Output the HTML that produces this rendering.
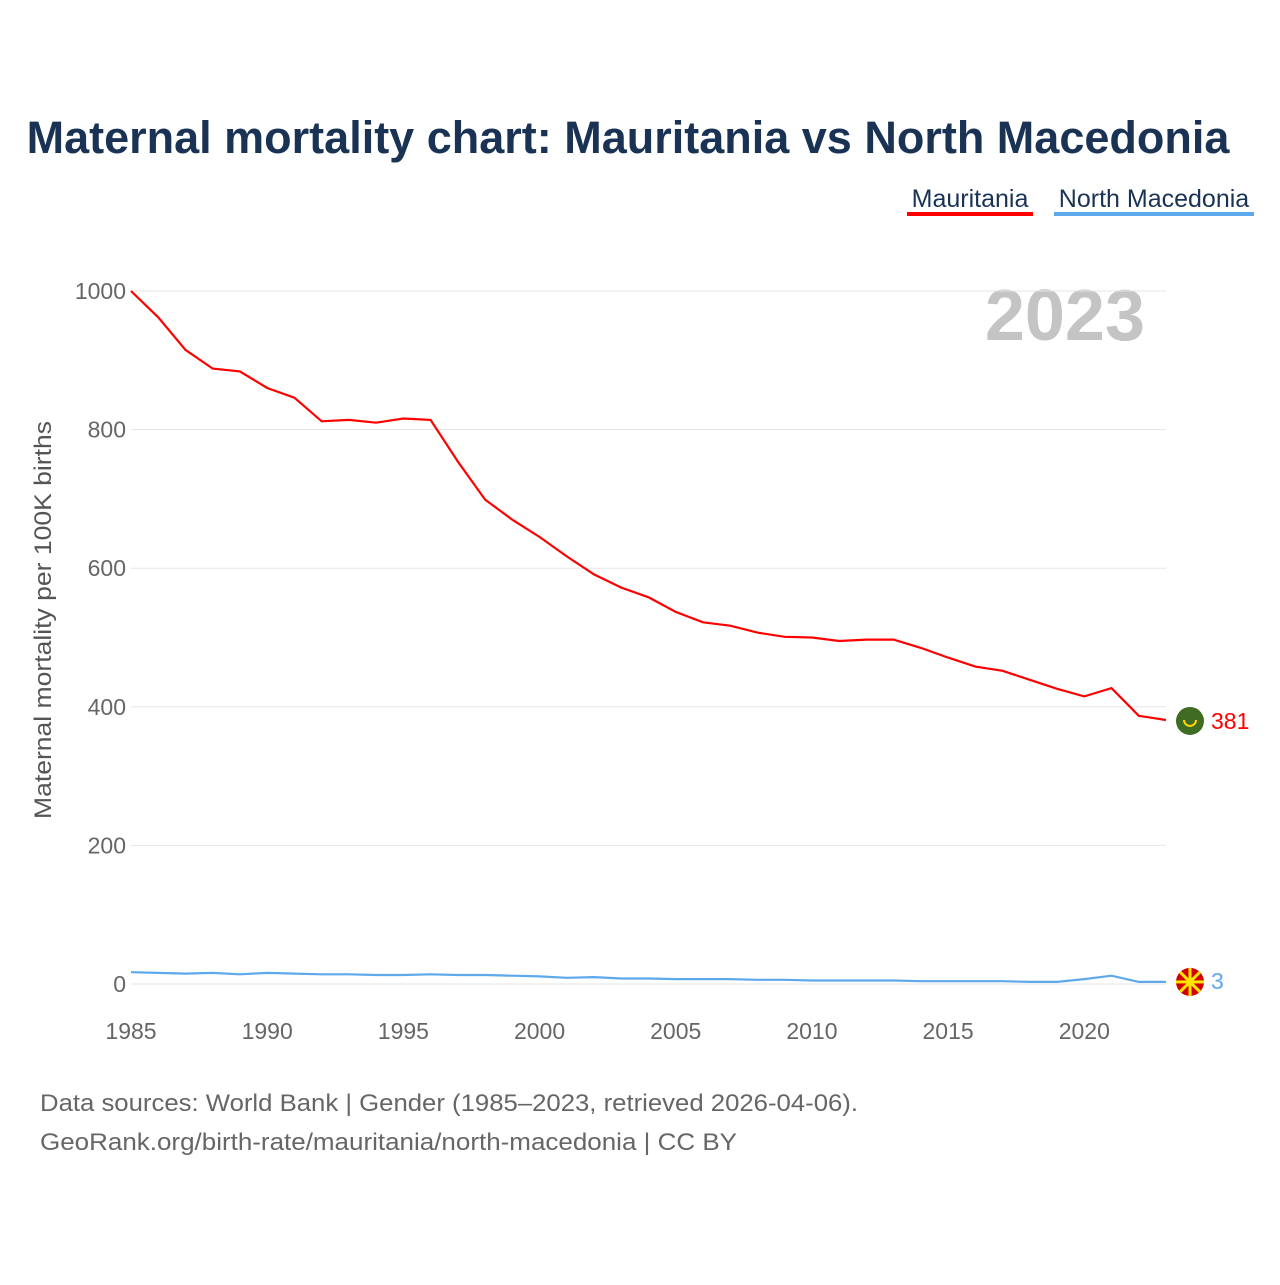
<!DOCTYPE html>
<html><head><meta charset="utf-8">
<style>
body{margin:0;background:#fff;font-family:"Liberation Sans",sans-serif;}
svg text{font-family:"Liberation Sans",sans-serif;}
</style></head>
<body>
<svg width="1280" height="1280" viewBox="0 0 1280 1280">
<text x="628" y="153" text-anchor="middle" font-size="45" font-weight="bold" fill="#1a3354">Maternal mortality chart: Mauritania vs North Macedonia</text>
<g>
<text x="970" y="207" text-anchor="middle" font-size="25" fill="#1a3354">Mauritania</text>
<rect x="907" y="212" width="126" height="4" fill="#ff0000"/>
</g>
<g>
<text x="1154" y="207" text-anchor="middle" font-size="25" fill="#1a3354">North Macedonia</text>
<rect x="1054" y="212" width="200" height="4" fill="#5ea8ec"/>
</g>
<text x="1145" y="340" text-anchor="end" font-size="72" font-weight="bold" fill="#c4c4c4">2023</text>
<g id="grid"></g>
<g id="xaxis"></g>
<text transform="translate(51,620) rotate(-90)" text-anchor="middle" font-size="24" fill="#555" textLength="398" lengthAdjust="spacingAndGlyphs">Maternal mortality per 100K births</text>
<g id="series"></g>
<text x="40" y="1111" font-size="24" fill="#666" textLength="818" lengthAdjust="spacingAndGlyphs">Data sources: World Bank | Gender (1985–2023, retrieved 2026-04-06).</text>
<text x="40" y="1150" font-size="24" fill="#666" textLength="697" lengthAdjust="spacingAndGlyphs">GeoRank.org/birth-rate/mauritania/north-macedonia | CC BY</text>
</svg>
<script>
const years=[];for(let y=1985;y<=2023;y++)years.push(y);
const mauritania=[1000,962,915,888,884,860,846,812,814,810,816,814,754,699,670,645,617,591,572,558,537,522,517,507,501,500,495,497,497,485,471,458,452,439,426,415,427,387,381];
const northMacedonia=[17,16,15,16,14,16,15,14,14,13,13,14,13,13,12,11,9,10,8,8,7,7,7,6,6,5,5,5,5,4,4,4,4,3,3,7,12,3,3];
const yTicks=[0,200,400,600,800,1000];
const xTicks=[1985,1990,1995,2000,2005,2010,2015,2020];
const NS="http://www.w3.org/2000/svg";
const xs=y=>131+(y-1985)*(1166-131)/(2023-1985);
const ys=v=>984-v*(984-291)/1000;
function mk(t,a,p){const e=document.createElementNS(NS,t);for(const k in a)e.setAttribute(k,a[k]);p.appendChild(e);return e;}
const grid=document.getElementById('grid');
yTicks.forEach(v=>{
 const l=mk('line',{x1:131,x2:1166,y1:ys(v),y2:ys(v),stroke:'#e6e6e6','stroke-width':1},grid);
 
 
 const t=mk('text',{x:126,y:ys(v)+8,'text-anchor':'end','font-size':23,fill:'#666'},grid);
 t.textContent=v;
 
 
});
const xa=document.getElementById('xaxis');
xTicks.forEach(v=>{
 const t=mk('text',{x:xs(v),y:1039,'text-anchor':'middle','font-size':23,fill:'#666'},xa);
 t.textContent=v;
 
 
});
const sg=document.getElementById('series');
function series(vals,color,name){
 const d=vals.map((v,i)=>(i?'L':'M')+xs(years[i]).toFixed(1)+','+ys(v).toFixed(1)).join('');
 const p=mk('path',{d:d,fill:'none',stroke:color,'stroke-width':2.2},sg);
 
 
}
series(mauritania,'#ff0000','mauritania');
series(northMacedonia,'#5ea8ec','north-macedonia');
const lm=mauritania[mauritania.length-1], ln=northMacedonia[northMacedonia.length-1];
const f1=mk('circle',{cx:1190,cy:ys(lm)+1,r:14,fill:'#3f6b22'},sg);


mk('path',{d:`M1184,${ys(lm)} a6,6 0 0 0 12,0`,fill:'none',stroke:'#ffd700','stroke-width':2},sg);
const t1=mk('text',{x:1211,y:ys(lm)+9,'font-size':23,fill:'#ff0000'},sg);
t1.textContent=lm;


const f2=mk('circle',{cx:1190,cy:ys(ln),r:14,fill:'#d20000'},sg);


for(let a=0;a<8;a++){const r=a*Math.PI/4;mk('line',{x1:1190,y1:ys(ln),x2:1190+14*Math.cos(r),y2:ys(ln)+14*Math.sin(r),stroke:'#ffe600','stroke-width':3},sg);}
mk('circle',{cx:1190,cy:ys(ln),r:4,fill:'#ffe600'},sg);
const t2=mk('text',{x:1211,y:ys(ln)+7,'font-size':23,fill:'#5ea8ec'},sg);
t2.textContent=ln;


</script>
</body></html>
